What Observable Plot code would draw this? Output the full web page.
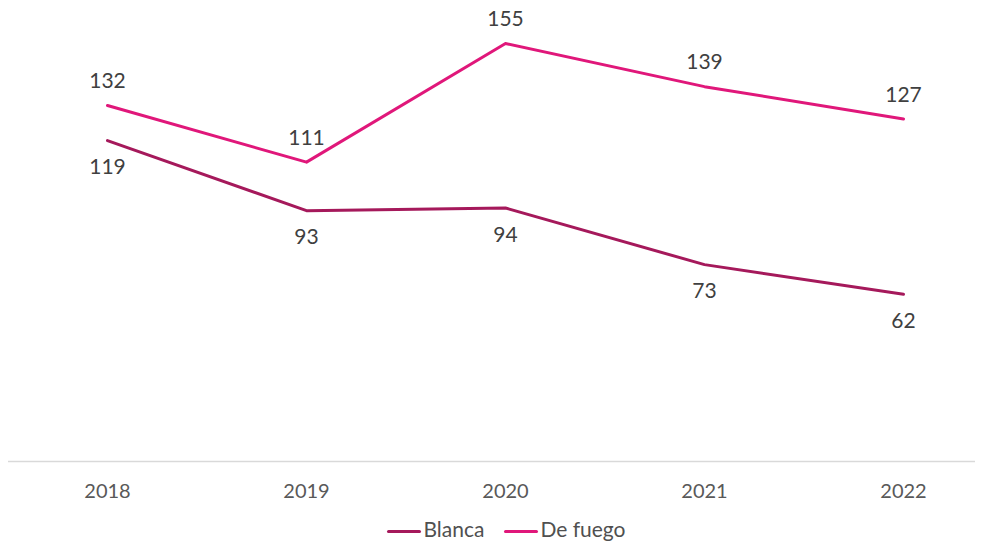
<!DOCTYPE html>
<html><head><meta charset="utf-8">
<script src="https://cdn.jsdelivr.net/npm/d3@7"></script>
<script src="https://cdn.jsdelivr.net/npm/@observablehq/plot@0.6"></script>
<style>
body{margin:0;background:#fff;font-family:Lato,"Noto Sans",sans-serif;}
#legend{display:flex;justify-content:center;align-items:center;gap:20px;font-size:21px;color:#505050;margin-top:10px;margin-left:24px}
.sw{display:inline-block;width:34px;height:3px;vertical-align:middle;margin-right:2px;border-radius:2px}
</style></head><body>
<div id="chart"></div>
<div id="legend"></div>
<script>
const years = ["2018","2019","2020","2021","2022"];
const blanca = [119, 93, 94, 73, 62];
const deFuego = [132, 111, 155, 139, 127];
const seriesNames = ["Blanca", "De fuego"];
const colors = ["#A5195B", "#E0177A"];

const data = [];
years.forEach((y,i)=>{ data.push({year:y, value:blanca[i], serie:"Blanca"}); });
years.forEach((y,i)=>{ data.push({year:y, value:deFuego[i], serie:"De fuego"}); });

const chart = Plot.plot({
  width: 989, height: 506,
  marginLeft: 8, marginRight: 14, marginTop: 43, marginBottom: 45,
  style: {fontFamily: "Lato, 'Noto Sans', sans-serif", fontSize: "20px", color: "#404040", background: "#fff"},
  x: {type: "point", domain: years, range: [106, 904], padding: 0, label: null},
  y: {domain: [0, 155], axis: null},
  color: {domain: seriesNames, range: colors},
  marks: [
    Plot.ruleY([0], {stroke: "#d9d9d9", strokeWidth: 1.5}),
    Plot.axisX({tickSize: 0, tickPadding: 22, fontSize: 20, fill: "#595959", label: null}),
    Plot.line(data, {x: "year", y: "value", z: "serie", stroke: "serie", strokeWidth: 3}),
    Plot.text(data.filter(d=>d.serie==="De fuego"), {x:"year", y:"value", text: d=>String(d.value), dy: -24, fontSize: 21, fill: "#404040"}),
    Plot.text(data.filter(d=>d.serie==="Blanca"), {x:"year", y:"value", text: d=>String(d.value), dy: 27, fontSize: 21, fill: "#404040"})
  ]
});
document.getElementById("chart").appendChild(chart);

const leg = document.getElementById("legend");
seriesNames.forEach((n,i)=>{
  const s = document.createElement("span");
  s.innerHTML = `<span class="sw" style="background:${colors[i]}"></span>${n}`;
  leg.appendChild(s);
});
</script>
</body></html>
